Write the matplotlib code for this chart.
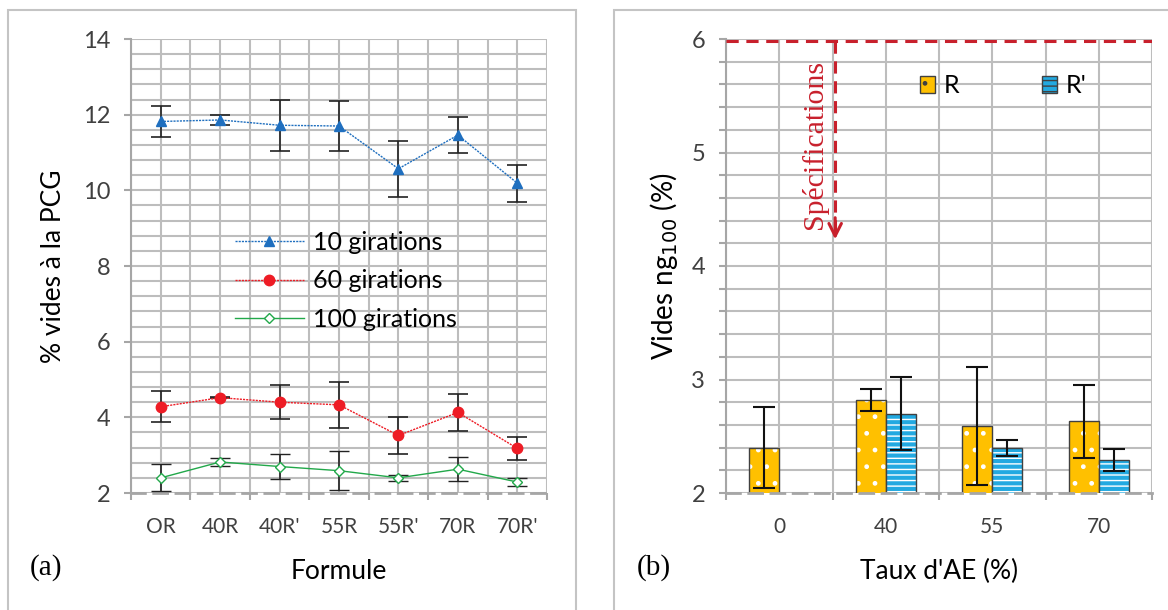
import numpy as np
import matplotlib.pyplot as plt
from matplotlib.patches import Rectangle, Patch
from matplotlib.ticker import MultipleLocator, FixedLocator

plt.rcParams['font.family'] = ['Lato', 'DejaVu Sans']
plt.rcParams['hatch.linewidth'] = 1.0

# ---------------- data (a) ----------------
formules = ["OR", "40R", "40R'", "55R", "55R'", "70R", "70R'"]
g10 = [11.82, 11.86, 11.72, 11.70, 10.57, 11.46, 10.19]
g10_err = [0.41, 0.12, 0.67, 0.67, 0.74, 0.47, 0.49]
g60 = [4.28, 4.52, 4.40, 4.33, 3.52, 4.13, 3.18]
g60_err = [0.41, 0.02, 0.45, 0.60, 0.49, 0.48, 0.31]
g100 = [2.40, 2.82, 2.70, 2.59, 2.40, 2.63, 2.29]
g100_err = [0.36, 0.10, 0.32, 0.52, 0.07, 0.32, 0.10]

# ---------------- data (b) ----------------
taux = ["0", "40", "55", "70"]
vides_R = [2.40, 2.82, 2.59, 2.63]
err_R = [0.36, 0.10, 0.52, 0.32]
vides_Rp = [np.nan, 2.70, 2.40, 2.29]
err_Rp = [np.nan, 0.32, 0.07, 0.10]
spec = 5.98

grid_c = '#bdbdbd'
txt_c = '#404040'
serif = ['Liberation Serif', 'DejaVu Serif']

fig = plt.figure(figsize=(11.68, 6.10), dpi=100)
ax1 = fig.add_axes([131/1168, 1-493/610, (547-131)/1168, (493-39)/610])
ax2 = fig.add_axes([726/1168, 1-493/610, (1152-726)/1168, (493-39)/610])

# panel frames
fig.patches.append(Rectangle((8/1168, -0.1), (576-8)/1168, 1-10/610+0.1, transform=fig.transFigure,
                             fill=False, edgecolor='#c4c4c4', lw=1.5))
fig.patches.append(Rectangle((614/1168, -0.1), 0.6, 1-10/610+0.1, transform=fig.transFigure,
                             fill=False, edgecolor='#c4c4c4', lw=1.5))


def style_axes(ax, n, ymin, ymax, ymaj, ymin_step, minor_ticks):
    ax.set_xlim(-0.5, n - 0.5)
    ax.set_ylim(ymin, ymax)
    ax.xaxis.set_major_locator(FixedLocator(np.arange(n + 1) - 0.5))
    ax.xaxis.set_minor_locator(FixedLocator(np.arange(n)))
    ax.yaxis.set_major_locator(MultipleLocator(ymaj))
    ax.yaxis.set_minor_locator(MultipleLocator(ymin_step))
    ax.grid(True, which='both', color=grid_c, lw=1.5)
    ax.set_axisbelow(True)
    for s in ['top', 'right']:
        ax.spines[s].set_visible(False)
    ax.spines['left'].set_color('#a6a6a6')
    ax.spines['left'].set_linewidth(1.5)
    ax.spines['bottom'].set_color('#a6a6a6')
    ax.spines['bottom'].set_linewidth(2)
    ax.spines['bottom'].set_linestyle((0, (5, 3)))
    ax.tick_params(axis='x', which='major', length=5, color='#a6a6a6', width=1.5, labelbottom=False)
    ax.tick_params(axis='x', which='minor', length=0, labelsize=15, labelcolor=txt_c, pad=17)
    ax.tick_params(axis='y', which='major', length=5, color='#a6a6a6', width=1.5,
                   labelsize=17, labelcolor=txt_c, pad=10)
    ax.tick_params(axis='y', which='minor', length=5 if minor_ticks else 0, color='#a6a6a6', width=1.5)


# ---------------- (a) ----------------
x = np.arange(len(formules))
style_axes(ax1, len(formules), 2, 14, 2, 0.4, False)
ax1.set_xticks(x, formules, minor=True)
ax1.errorbar(x, g10, yerr=g10_err, color='#1f6fbf', ls=(0, (1.5, 0.8)), lw=1, marker='^', ms=7.5,
             ecolor='#222222', elinewidth=1.2, capsize=7, capthick=1.2, label='10 girations', zorder=3)
ax1.errorbar(x, g60, yerr=g60_err, color='#ee1c25', ls=(0, (1.5, 0.8)), lw=1, marker='o', ms=7.5,
             ecolor='#222222', elinewidth=1.2, capsize=7, capthick=1.2, label='60 girations', zorder=3)
ax1.errorbar(x, g100, yerr=g100_err, color='#22a84a', ls='-', lw=1, marker='D', ms=5, mfc='white',
             mew=1, ecolor='#222222', elinewidth=1.2, capsize=7, capthick=1.2, label='100 girations', zorder=3)
h, l = ax1.get_legend_handles_labels()
h = [hh[0] for hh in h]
ax1.legend(h, l, loc='upper left', bbox_to_anchor=(0.22, 0.605), frameon=False, fontsize=18,
           handlelength=2.75, labelspacing=0.62, borderpad=0, handletextpad=0.35)
ax1.set_ylabel('% vides à la PCG', fontsize=19, color='black', labelpad=12)
ax1.set_xlabel('Formule', fontsize=19, color='black', labelpad=16)
fig.text(30/1168, 1-568/610, '(a)', family=serif, fontsize=21, va='center', ha='left')

# ---------------- (b) ----------------
xb = np.arange(len(taux))
style_axes(ax2, len(taux), 2, 6, 1, 0.2, True)
ax2.set_xticks(xb, taux, minor=True)
w = 0.28
ax2.bar(xb - w/2, vides_R, w, color='#ffc000', edgecolor='white', lw=0, hatch='.', zorder=2)
ax2.bar(xb - w/2, vides_R, w, fill=False, edgecolor='#404040', lw=1, zorder=2)
ax2.bar(xb + w/2, vides_Rp, w, color='#22a9e1', edgecolor='white', lw=0, hatch='---', zorder=2)
ax2.bar(xb + w/2, vides_Rp, w, fill=False, edgecolor='#404040', lw=1, zorder=2)
ax2.errorbar(xb - w/2, vides_R, yerr=err_R, fmt='none', ecolor='#111111', elinewidth=1.5,
             capsize=8, capthick=1.5, zorder=3)
ax2.errorbar(xb + w/2, vides_Rp, yerr=err_Rp, fmt='none', ecolor='#111111', elinewidth=1.5,
             capsize=8, capthick=1.5, zorder=3)
ax2.set_ylim(2, 6)

# specification line and arrow
red = '#c8202c'
ax2.axhline(spec, color=red, lw=2.2, ls=(0, (4, 2.5)), zorder=4)
xs = 0.525
ax2.plot([xs, xs], [spec, 4.25], color=red, lw=2.2, ls=(0, (4, 2.5)), zorder=4)
ax2.annotate('', xy=(xs, 4.21), xytext=(xs, 4.45),
             arrowprops=dict(arrowstyle='->,head_length=0.9,head_width=0.45', color=red, lw=2.2), zorder=4)
ax2.text(0.335, 5.07, 'Spécifications', rotation=90, color=red, family=serif, fontsize=21.5,
         ha='center', va='center', zorder=4)

leg_h = [Patch(facecolor='#ffc000', edgecolor='#404040', hatch='.'),
         Patch(facecolor='#22a9e1', edgecolor='#404040', hatch='---')]
ax2.legend(leg_h, ['R', "R'"], ncol=2, loc='center left', bbox_to_anchor=(0.425, 0.897), frameon=False,
           fontsize=18, handlelength=0.62, handleheight=0.62, handletextpad=0.35, columnspacing=3.3,
           borderpad=0)
ax2.set_ylabel('Vides ng$_{100}$ (%)', fontsize=20, color='black', labelpad=8)
ax2.set_xlabel("Taux d'AE (%)", fontsize=19, color='black', labelpad=16)
fig.text(637/1168, 1-568/610, '(b)', family=serif, fontsize=21, va='center', ha='left')

fig.savefig('out.png', dpi=100, facecolor='white')
